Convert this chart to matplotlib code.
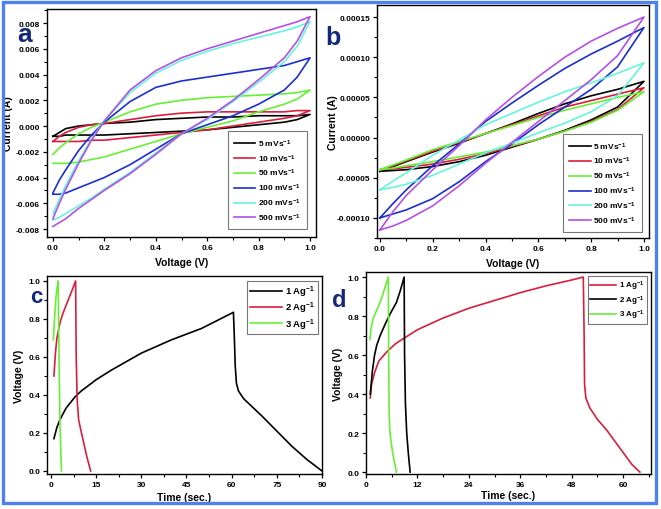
import matplotlib
matplotlib.use("Agg")
import matplotlib.pyplot as plt
from matplotlib.patches import Rectangle
from matplotlib.ticker import MultipleLocator, FormatStrFormatter

plt.rcParams['font.family'] = ['Liberation Sans', 'DejaVu Sans']
plt.rcParams['font.weight'] = 'bold'
plt.rcParams['mathtext.fontset'] = 'custom'
plt.rcParams['mathtext.rm'] = 'Liberation Sans:bold'
plt.rcParams['mathtext.bf'] = 'Liberation Sans:bold'
plt.rcParams['mathtext.default'] = 'bf'

# ---------------- Panel a : CV (current in A) ----------------
cv_a_voltage = [0, 0.025, 0.05, 0.1, 0.15, 0.2, 0.3, 0.4, 0.5, 0.6, 0.7, 0.8, 0.9, 0.95, 1.0]
cv_a_labels = ["5 mVs$^{-1}$", "10 mVs$^{-1}$", "50 mVs$^{-1}$", "100 mVs$^{-1}$", "200 mVs$^{-1}$", "500 mVs$^{-1}$"]
cv_a_5_up = [-0.0008, -0.0005, -0.0002, 0.0000, 0.0001, 0.0002, 0.0003, 0.0005, 0.0006, 0.0007, 0.0007, 0.0008, 0.0008, 0.0008, 0.0009]
cv_a_5_dn = [-0.0008, -0.0008, -0.0007, -0.0007, -0.0007, -0.0007, -0.0006, -0.0005, -0.0004, -0.0003, -0.0001, 0.0001, 0.0003, 0.0005, 0.0009]
cv_a_10_up = [-0.0012, -0.0008, -0.0005, -0.0001, 0.0001, 0.0002, 0.0005, 0.0008, 0.0010, 0.0011, 0.0011, 0.0011, 0.0011, 0.0012, 0.0012]
cv_a_10_dn = [-0.0012, -0.0012, -0.0012, -0.0012, -0.0011, -0.0011, -0.0009, -0.0007, -0.0005, -0.0003, 0.0000, 0.0003, 0.0006, 0.0008, 0.0012]
cv_a_50_up = [-0.0022, -0.0017, -0.0013, -0.0006, -0.0001, 0.0003, 0.0011, 0.0017, 0.0020, 0.0022, 0.0023, 0.0024, 0.0025, 0.0026, 0.0028]
cv_a_50_dn = [-0.0029, -0.0029, -0.0029, -0.0028, -0.0026, -0.0024, -0.0018, -0.0012, -0.0006, -0.0001, 0.0004, 0.0011, 0.0017, 0.0021, 0.0028]
cv_a_100_up = [-0.0052, -0.0042, -0.0034, -0.0019, -0.0007, 0.0003, 0.0019, 0.0030, 0.0035, 0.0038, 0.0041, 0.0044, 0.0047, 0.0050, 0.0053]
cv_a_100_dn = [-0.0053, -0.0053, -0.0052, -0.0048, -0.0044, -0.0040, -0.0030, -0.0018, -0.0006, 0.0001, 0.0008, 0.0017, 0.0028, 0.0038, 0.0053]
cv_a_200_up = [-0.0068, -0.0057, -0.0046, -0.0027, -0.0010, 0.0004, 0.0026, 0.0041, 0.0051, 0.0058, 0.0064, 0.0069, 0.0074, 0.0077, 0.0081]
cv_a_200_dn = [-0.0073, -0.0071, -0.0068, -0.0062, -0.0056, -0.0049, -0.0036, -0.0021, -0.0006, 0.0005, 0.0019, 0.0034, 0.0050, 0.0062, 0.0081]
cv_a_500_up = [-0.0072, -0.0060, -0.0049, -0.0029, -0.0011, 0.0004, 0.0028, 0.0043, 0.0053, 0.0060, 0.0066, 0.0072, 0.0078, 0.0081, 0.0085]
cv_a_500_dn = [-0.0078, -0.0075, -0.0072, -0.0064, -0.0057, -0.0050, -0.0037, -0.0022, -0.0006, 0.0006, 0.0020, 0.0036, 0.0053, 0.0066, 0.0085]

# ---------------- Panel b : CV (current in A) ----------------
cv_b_voltage = [0, 0.05, 0.1, 0.2, 0.3, 0.4, 0.5, 0.6, 0.7, 0.8, 0.9, 1.0]
cv_b_5_up = [-4.2e-5, -3.6e-5, -3.0e-5, -1.8e-5, -0.7e-5, 0.5e-5, 1.7e-5, 3.0e-5, 4.2e-5, 5.2e-5, 6.0e-5, 7.0e-5]
cv_b_5_dn = [-4.2e-5, -4.1e-5, -4.0e-5, -3.6e-5, -3.0e-5, -2.2e-5, -1.2e-5, -0.2e-5, 0.9e-5, 2.2e-5, 3.8e-5, 7.0e-5]
cv_b_10_up = [-4.0e-5, -3.5e-5, -2.9e-5, -1.7e-5, -0.6e-5, 0.5e-5, 1.6e-5, 2.7e-5, 3.8e-5, 4.6e-5, 5.4e-5, 6.2e-5]
cv_b_10_dn = [-4.0e-5, -3.9e-5, -3.7e-5, -3.3e-5, -2.7e-5, -2.0e-5, -1.1e-5, -0.2e-5, 0.8e-5, 2.0e-5, 3.5e-5, 6.2e-5]
cv_b_50_up = [-4.0e-5, -3.4e-5, -2.8e-5, -1.5e-5, -0.5e-5, 0.5e-5, 1.5e-5, 2.5e-5, 3.4e-5, 4.2e-5, 5.0e-5, 5.7e-5]
cv_b_50_dn = [-4.0e-5, -3.8e-5, -3.5e-5, -3.0e-5, -2.4e-5, -1.8e-5, -1.0e-5, -0.2e-5, 0.8e-5, 1.9e-5, 3.4e-5, 5.7e-5]
cv_b_100_up = [-10.0e-5, -8.2e-5, -6.5e-5, -3.5e-5, -0.8e-5, 2.0e-5, 4.3e-5, 6.5e-5, 8.6e-5, 10.4e-5, 12.0e-5, 13.7e-5]
cv_b_100_dn = [-10.0e-5, -9.5e-5, -9.0e-5, -7.6e-5, -5.5e-5, -3.0e-5, -0.8e-5, 1.6e-5, 3.8e-5, 6.0e-5, 8.8e-5, 13.7e-5]
cv_b_200_up = [-6.5e-5, -5.4e-5, -4.4e-5, -2.2e-5, -0.3e-5, 1.6e-5, 3.0e-5, 4.4e-5, 5.7e-5, 6.8e-5, 8.0e-5, 9.3e-5]
cv_b_200_dn = [-6.5e-5, -6.2e-5, -5.8e-5, -4.7e-5, -3.3e-5, -1.9e-5, -0.7e-5, 0.6e-5, 1.8e-5, 3.2e-5, 5.2e-5, 9.3e-5]
cv_b_500_up = [-11.5e-5, -9.2e-5, -7.2e-5, -4.0e-5, -1.0e-5, 2.2e-5, 5.0e-5, 7.6e-5, 10.0e-5, 12.0e-5, 13.6e-5, 15.0e-5]
cv_b_500_dn = [-11.5e-5, -11.0e-5, -10.3e-5, -8.5e-5, -6.0e-5, -3.2e-5, -0.6e-5, 2.0e-5, 4.6e-5, 7.2e-5, 10.2e-5, 15.0e-5]

# ---------------- Panel c : GCD ----------------
gcd_c_labels = ["1 Ag$^{-1}$", "2 Ag$^{-1}$", "3 Ag$^{-1}$"]
gcd_c_1_time = [1, 2, 3, 5, 8, 10, 15, 20, 30, 40, 50, 60.6, 60.9, 61.2, 61.6, 62.3, 64, 66, 70, 75, 80, 85, 90]
gcd_c_1_volt = [0.17, 0.23, 0.27, 0.33, 0.39, 0.42, 0.48, 0.53, 0.62, 0.69, 0.75, 0.835, 0.70, 0.55, 0.46, 0.42, 0.38, 0.35, 0.29, 0.21, 0.13, 0.06, 0.0]
gcd_c_2_time = [1, 1.5, 2, 3, 4, 5, 6, 7, 8.2, 8.4, 8.7, 9.2, 10, 11, 12, 13.2]
gcd_c_2_volt = [0.50, 0.62, 0.70, 0.78, 0.83, 0.87, 0.91, 0.95, 1.0, 0.60, 0.38, 0.27, 0.21, 0.14, 0.07, 0.0]
gcd_c_3_time = [0.8, 1.2, 1.6, 2.0, 2.4, 2.7, 3.0, 3.5]
gcd_c_3_volt = [0.69, 0.80, 0.90, 0.96, 1.0, 0.60, 0.25, 0.0]

# ---------------- Panel d : GCD ----------------
gcd_d_labels = ["1 Ag$^{-1}$", "2 Ag$^{-1}$", "3 Ag$^{-1}$"]
gcd_d_1_time = [1, 1.3, 2, 3, 5, 7, 12, 18, 24, 30, 36, 42, 48, 50.7, 50.9, 51.0, 51.3, 52.2, 54, 56, 58, 60, 62, 63.9]
gcd_d_1_volt = [0.38, 0.45, 0.51, 0.57, 0.62, 0.66, 0.73, 0.79, 0.84, 0.88, 0.92, 0.955, 0.985, 1.0, 0.70, 0.45, 0.38, 0.33, 0.27, 0.22, 0.16, 0.10, 0.04, 0.0]
gcd_d_2_time = [1, 1.5, 2, 2.5, 3.3, 4.5, 5.6, 7.1, 8.0, 8.9, 9.0, 9.2, 9.5, 9.9, 10.3]
gcd_d_2_volt = [0.40, 0.52, 0.60, 0.65, 0.70, 0.76, 0.81, 0.87, 0.93, 1.0, 0.60, 0.35, 0.20, 0.09, 0.0]
gcd_d_3_time = [0.9, 1.2, 1.7, 2.5, 3.3, 4.2, 5.2, 5.3, 5.4, 5.6, 6.2, 7.1]
gcd_d_3_volt = [0.68, 0.74, 0.79, 0.83, 0.87, 0.93, 1.0, 0.60, 0.30, 0.20, 0.10, 0.0]

cv_colors = ['#000000', '#d81e3c', '#66f033', '#1c2ed0', '#66f5dc', '#b450e6']
gcd_c_colors = ['#000000', '#d81e3c', '#66f033']
gcd_d_colors = ['#d81e3c', '#000000', '#66f033']
letter_color = '#14287a'

W, H = 661, 510
fig = plt.figure(figsize=(W / 100, H / 100), dpi=100)


def ax_at(l, t, r, b):
    return fig.add_axes([l / W, 1 - b / H, (r - l) / W, (b - t) / H])


def style(ax):
    ax.tick_params(which='both', direction='out', top=False, right=False, labelsize=6, pad=2)
    ax.tick_params(which='major', length=3, width=0.9)
    ax.tick_params(which='minor', length=2, width=0.8)
    for s in ax.spines.values():
        s.set_linewidth(1.0)
    for lab in ax.get_xticklabels() + ax.get_yticklabels():
        lab.set_fontweight('bold')


def loop(v, up, dn):
    xs = list(v) + list(v[::-1])
    ys = list(up) + list(dn[::-1])
    return xs, ys


def small_legend(ax, fs, hl, ls, bp, anchor, loc):
    leg = ax.legend(loc=loc, fontsize=fs, frameon=True, fancybox=False, edgecolor='#555555',
                    handlelength=hl, handletextpad=0.3, labelspacing=ls, borderpad=bp,
                    bbox_to_anchor=anchor, borderaxespad=0)
    leg.get_frame().set_linewidth(0.8)
    return leg


lw = 1.2
lab_fs = 7.5

# Panel a
axa = ax_at(47, 10, 316, 238)
a_up = [cv_a_5_up, cv_a_10_up, cv_a_50_up, cv_a_100_up, cv_a_200_up, cv_a_500_up]
a_dn = [cv_a_5_dn, cv_a_10_dn, cv_a_50_dn, cv_a_100_dn, cv_a_200_dn, cv_a_500_dn]
for up, dn, c, lab in zip(a_up, a_dn, cv_colors, cv_a_labels):
    xs, ys = loop(cv_a_voltage, up, dn)
    axa.plot(xs, ys, color=c, lw=lw, label=lab)
axa.set_xlim(-0.023, 1.023)
axa.set_ylim(-0.00862, 0.00909)
axa.xaxis.set_major_locator(MultipleLocator(0.2))
axa.xaxis.set_minor_locator(MultipleLocator(0.1))
axa.yaxis.set_major_locator(MultipleLocator(0.002))
axa.yaxis.set_minor_locator(MultipleLocator(0.001))
axa.xaxis.set_major_formatter(FormatStrFormatter('%.1f'))
axa.yaxis.set_major_formatter(FormatStrFormatter('%.3f'))
axa.set_xlabel('Voltage (V)', fontsize=lab_fs, fontweight='bold')
axa.set_ylabel('Current (A)', fontsize=lab_fs, fontweight='bold')
axa.xaxis.set_label_coords(0.5, -0.088)
axa.yaxis.set_label_coords(-0.128, 0.5)
style(axa)
small_legend(axa, 6, 2.6, 0.42, 0.75, (0.966, 0.035), 'lower right')

# Panel b
axb = ax_at(377, 6, 649, 239)
b_up = [cv_b_5_up, cv_b_10_up, cv_b_50_up, cv_b_100_up, cv_b_200_up, cv_b_500_up]
b_dn = [cv_b_5_dn, cv_b_10_dn, cv_b_50_dn, cv_b_100_dn, cv_b_200_dn, cv_b_500_dn]
for up, dn, c, lab in zip(b_up, b_dn, cv_colors, cv_a_labels):
    xs, ys = loop(cv_b_voltage, up, dn)
    axb.plot(xs, ys, color=c, lw=lw, label=lab)
axb.set_xlim(-0.011, 1.019)
axb.set_ylim(-0.000125, 0.000165)
axb.xaxis.set_major_locator(MultipleLocator(0.2))
axb.xaxis.set_minor_locator(MultipleLocator(0.1))
axb.yaxis.set_major_locator(MultipleLocator(0.00005))
axb.yaxis.set_minor_locator(MultipleLocator(0.000025))
axb.xaxis.set_major_formatter(FormatStrFormatter('%.1f'))
axb.yaxis.set_major_formatter(FormatStrFormatter('%.5f'))
axb.set_xlabel('Voltage (V)', fontsize=lab_fs, fontweight='bold')
axb.set_ylabel('Current (A)', fontsize=lab_fs, fontweight='bold')
axb.xaxis.set_label_coords(0.5, -0.086)
axb.yaxis.set_label_coords(-0.142, 0.5)
style(axb)
small_legend(axb, 6, 2.6, 0.42, 0.75, (0.974, 0.026), 'lower right')

# Panel c
axc = ax_at(47, 277, 322, 475)
for t, v, c, lab in zip([gcd_c_1_time, gcd_c_2_time, gcd_c_3_time],
                        [gcd_c_1_volt, gcd_c_2_volt, gcd_c_3_volt], gcd_c_colors, gcd_c_labels):
    axc.plot(t, v, color=c, lw=lw, label=lab)
axc.set_xlim(-1.3, 90)
axc.set_ylim(-0.016, 1.026)
axc.xaxis.set_major_locator(MultipleLocator(15))
axc.xaxis.set_minor_locator(MultipleLocator(7.5))
axc.yaxis.set_major_locator(MultipleLocator(0.2))
axc.yaxis.set_minor_locator(MultipleLocator(0.1))
axc.yaxis.set_major_formatter(FormatStrFormatter('%.1f'))
axc.set_xlabel('Time (sec.)', fontsize=lab_fs, fontweight='bold')
axc.set_ylabel('Voltage (V)', fontsize=lab_fs, fontweight='bold')
axc.xaxis.set_label_coords(0.5, -0.091)
axc.yaxis.set_label_coords(-0.082, 0.5)
style(axc)
small_legend(axc, 6.8, 3.4, 0.1, 0.3, (0.985, 0.975), 'upper right')

# Panel d
axd = ax_at(366, 273, 651, 475)
for t, v, c, lab in zip([gcd_d_1_time, gcd_d_2_time, gcd_d_3_time],
                        [gcd_d_1_volt, gcd_d_2_volt, gcd_d_3_volt], gcd_d_colors, gcd_d_labels):
    axd.plot(t, v, color=c, lw=lw, label=lab)
axd.set_xlim(0, 66.5)
axd.set_ylim(-0.01, 1.026)
axd.xaxis.set_major_locator(MultipleLocator(12))
axd.xaxis.set_minor_locator(MultipleLocator(6))
axd.yaxis.set_major_locator(MultipleLocator(0.2))
axd.yaxis.set_minor_locator(MultipleLocator(0.1))
axd.yaxis.set_major_formatter(FormatStrFormatter('%.1f'))
axd.set_xlabel('Time (sec.)', fontsize=lab_fs, fontweight='bold')
axd.set_ylabel('Voltage (V)', fontsize=lab_fs, fontweight='bold')
axd.xaxis.set_label_coords(0.5, -0.079)
axd.yaxis.set_label_coords(-0.082, 0.5)
style(axd)
small_legend(axd, 5.8, 3.2, 0.15, 0.35, (0.986, 0.98), 'upper right')

# panel letters (x centre, baseline y, text, size)
for lx, ly, s, fs in [(25, 42, 'a', 19), (333, 45, 'b', 18), (36, 303, 'c', 16), (339, 307, 'd', 17)]:
    fig.text(lx / W, 1 - ly / H, s, fontsize=fs, fontweight='bold', color=letter_color,
             ha='center', va='baseline', family=['Liberation Sans', 'DejaVu Sans'])

# blue frame
fig.patches.append(Rectangle((2.5 / W, 1 - 504 / H), 653 / W, 501.5 / H, transform=fig.transFigure,
                             fill=False, edgecolor='#4d82ee', linewidth=2.4))

fig.savefig('out.png', dpi=100)
